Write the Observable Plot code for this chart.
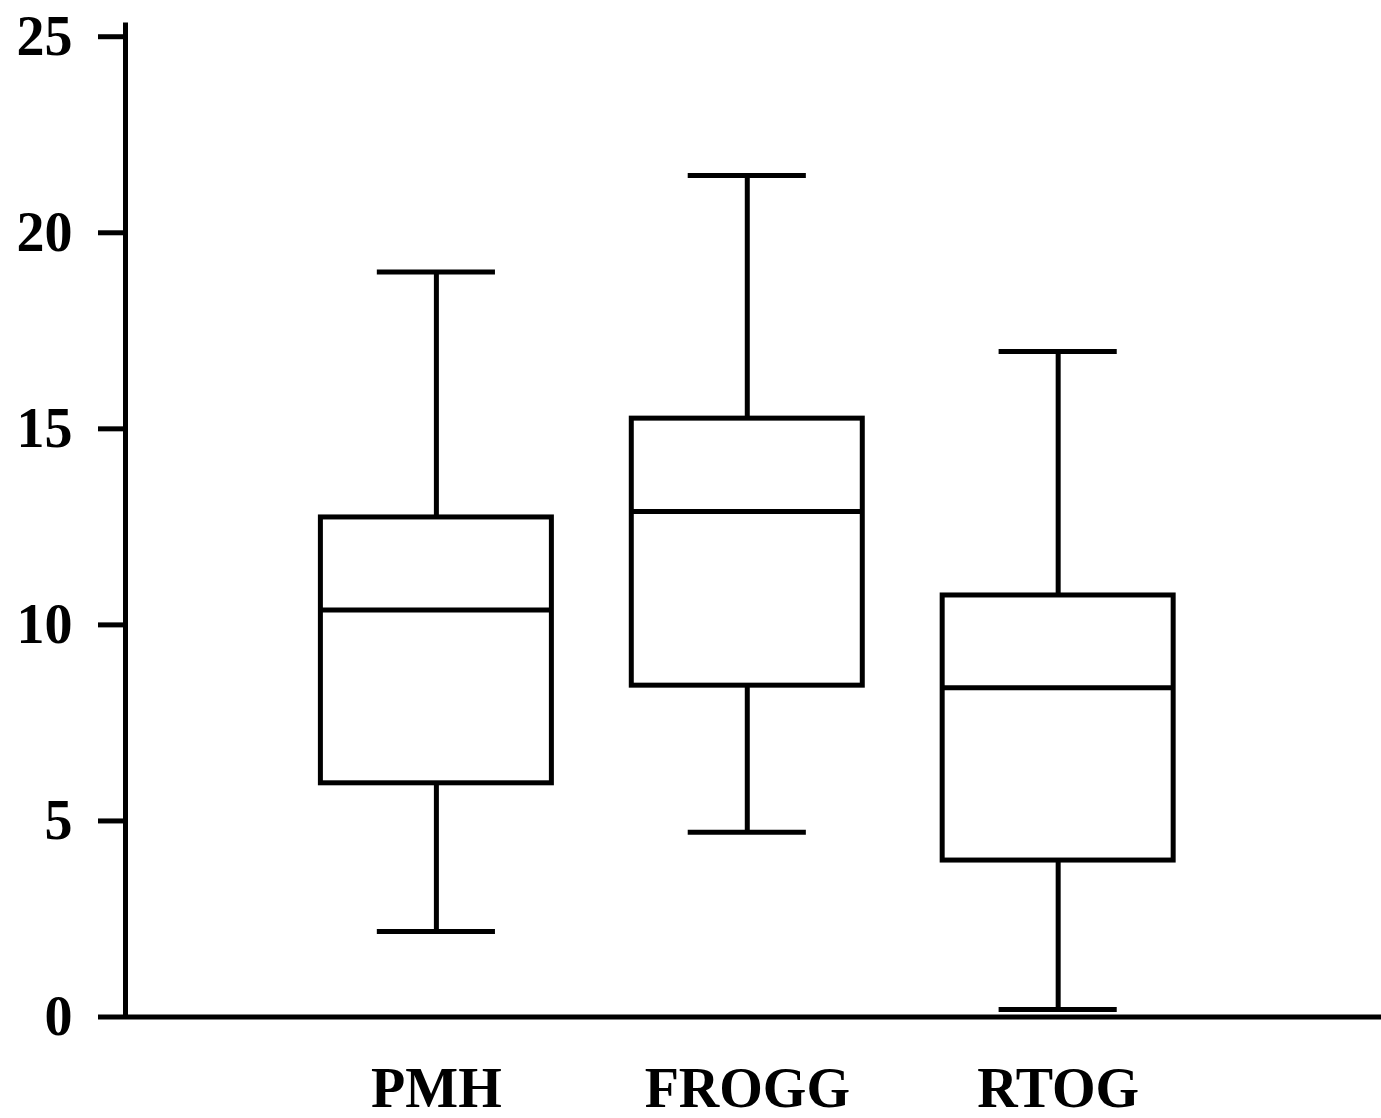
<!DOCTYPE html>
<html>
<head>
<meta charset="utf-8">
<script src="https://cdn.jsdelivr.net/npm/d3@7"></script>
<script src="https://cdn.jsdelivr.net/npm/@observablehq/plot@0.6"></script>
<style>
  html, body { margin: 0; padding: 0; background: #fff; }
  #chart svg { display: block; }
</style>
</head>
<body>
<div id="chart"></div>
<script>
const categories = ["PMH", "FROGG", "RTOG"];
const whiskerMin = [2.18, 4.71, 0.19];
const q1 = [5.96, 8.45, 3.99];
const median = [10.38, 12.89, 8.40];
const q3 = [12.74, 15.26, 10.75];
const whiskerMax = [19.0, 21.46, 16.97];
const yTicks = [0, 5, 10, 15, 20, 25];

const data = categories.map((c, i) => ({
  i, name: c, min: whiskerMin[i], q1: q1[i], med: median[i], q3: q3[i], max: whiskerMax[i]
}));

const xDomain = [-1, 3.04];
const yDomain = [0, 25.35];
const boxHalf = 0.3715;
const capHalf = 0.19;
const sw = 5;

const chart = Plot.plot({
  width: 1381,
  height: 1118,
  marginLeft: 125,
  marginRight: 0,
  marginTop: 22.5,
  marginBottom: 101.5,
  style: {
    fontFamily: "'Liberation Serif', 'Times New Roman', serif",
    fontWeight: "bold",
    fontSize: "56px",
    color: "#000",
    background: "#fff"
  },
  x: { domain: xDomain, axis: null },
  y: { domain: yDomain, axis: null },
  marks: [
    // whiskers
    Plot.ruleX(data, { x: "i", y1: "min", y2: "q1", stroke: "#000", strokeWidth: sw }),
    Plot.ruleX(data, { x: "i", y1: "q3", y2: "max", stroke: "#000", strokeWidth: sw }),
    // caps
    Plot.ruleY(data, { y: "min", x1: d => d.i - capHalf, x2: d => d.i + capHalf, stroke: "#000", strokeWidth: sw }),
    Plot.ruleY(data, { y: "max", x1: d => d.i - capHalf, x2: d => d.i + capHalf, stroke: "#000", strokeWidth: sw }),
    // boxes
    Plot.rect(data, { x1: d => d.i - boxHalf, x2: d => d.i + boxHalf, y1: "q1", y2: "q3", fill: "#fff", stroke: "#000", strokeWidth: sw }),
    // medians
    Plot.ruleY(data, { y: "med", x1: d => d.i - boxHalf, x2: d => d.i + boxHalf, stroke: "#000", strokeWidth: sw }),
    // axis lines
    Plot.ruleX([xDomain[0]], { y1: yDomain[0], y2: yDomain[1], stroke: "#000", strokeWidth: sw }),
    Plot.ruleY([yDomain[0]], { stroke: "#000", strokeWidth: sw }),
    // axes
    Plot.axisY({ ticks: yTicks, label: null, tickSize: 27, tickPadding: 26, strokeWidth: sw, stroke: "#000", fill: "#000", fontSize: 56, fontWeight: "bold" }),
    Plot.axisX({ ticks: [0, 1, 2], label: null, tickFormat: i => categories[i], tickSize: 0, tickPadding: 50, fill: "#000", fontSize: 56, fontWeight: "bold" })
  ]
});

document.getElementById("chart").appendChild(chart);
</script>
</body>
</html>
